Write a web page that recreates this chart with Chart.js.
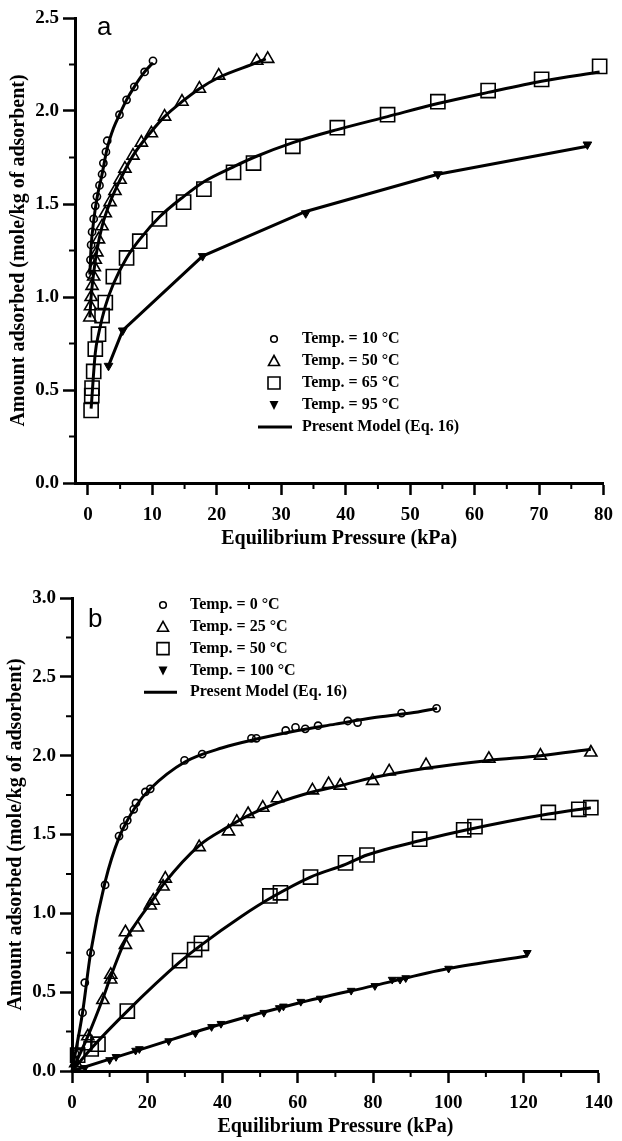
<!DOCTYPE html>
<html>
<head>
<meta charset="utf-8">
<script src="https://cdn.jsdelivr.net/npm/chart.js@4.4.1/dist/chart.umd.min.js"></script>
<style>
  html, body { margin: 0; padding: 0; background: #fff; }
  #wrap { position: relative; width: 622px; height: 1141px; }
  canvas { position: absolute; left: 0; }
  #chartA { top: 0; }
  #chartB { top: 560px; }
</style>
</head>
<body>
<div id="wrap">
  <canvas id="chartA" width="622" height="560"></canvas>
  <canvas id="chartB" width="622" height="581"></canvas>
</div>
<script>
// ---- panel a : measured points ----
const labelsA = ['Temp. = 10 °C', 'Temp. = 50 °C', 'Temp. = 65 °C', 'Temp. = 95 °C', 'Present Model (Eq. 16)'];

const a10x = [0.3, 0.4, 0.5, 0.65, 0.9, 1.15, 1.4, 1.8, 2.2, 2.4, 2.8, 3.0, 4.9, 6.0, 7.2, 8.8, 10.1];
const a10y = [1.12, 1.2, 1.28, 1.35, 1.42, 1.49, 1.54, 1.6, 1.66, 1.72, 1.78, 1.84, 1.98, 2.06, 2.13, 2.21, 2.27];

const a50x = [0.3, 0.4, 0.5, 0.65, 0.9, 1.0, 1.15, 1.4, 1.65, 2.2, 2.7, 3.45, 4.2, 5.0, 5.75, 7.0, 8.3, 9.85, 11.9, 14.6, 17.3, 20.3, 26.2, 27.9];
const a50y = [0.89, 0.95, 1.0, 1.06, 1.11, 1.16, 1.2, 1.24, 1.31, 1.38, 1.45, 1.51, 1.57, 1.63, 1.69, 1.76, 1.83, 1.88, 1.97, 2.05, 2.12, 2.19, 2.27, 2.28];

const a65x = [0.5, 0.6, 0.65, 0.9, 1.15, 1.65, 2.2, 2.7, 3.95, 6.0, 8.05, 11.1, 14.85, 18.0, 22.6, 25.7, 31.8, 38.7, 46.5, 54.3, 62.1, 70.4, 79.4];
const a65y = [0.39, 0.47, 0.51, 0.6, 0.72, 0.8, 0.9, 0.97, 1.11, 1.21, 1.30, 1.42, 1.51, 1.58, 1.67, 1.72, 1.81, 1.91, 1.98, 2.05, 2.11, 2.17, 2.24];

const a95x = [3.2, 5.4, 17.8, 33.8, 54.3, 77.5];
const a95y = [0.63, 0.82, 1.22, 1.45, 1.66, 1.82];

// ---- panel a : model curves ----
const m10x = [0.3, 0.5, 0.9, 1.4, 2.2, 3.0, 4.0, 4.9, 6.0, 7.2, 8.8, 10.1];
const m10y = [1.12, 1.27, 1.41, 1.53, 1.66, 1.8, 1.91, 1.98, 2.06, 2.13, 2.21, 2.26];
const m50x = [0.3, 0.5, 0.9, 1.4, 2.2, 3.45, 5.0, 7.0, 9.85, 11.9, 14.6, 17.3, 20.3, 26.2, 27.6];
const m50y = [0.89, 1.0, 1.13, 1.25, 1.38, 1.51, 1.63, 1.76, 1.89, 1.97, 2.05, 2.12, 2.18, 2.26, 2.28];
const m65x = [0.5, 1.15, 1.65, 2.7, 3.95, 6.0, 8.05, 11.1, 14.85, 18.0, 22.6, 25.7, 31.8, 38.7, 46.5, 54.3, 62.1, 70.4, 79.4];
const m65y = [0.4, 0.7, 0.8, 0.95, 1.07, 1.21, 1.31, 1.43, 1.54, 1.62, 1.70, 1.75, 1.83, 1.9, 1.97, 2.04, 2.1, 2.16, 2.21];
const m95x = [3.2, 5.4, 17.8, 33.8, 54.3, 77.5];
const m95y = [0.63, 0.82, 1.22, 1.46, 1.66, 1.81];

const xMajorA = [0, 10, 20, 30, 40, 50, 60, 70, 80];
const xMinorA = [5, 15, 25, 35, 45, 55, 65, 75];
const yMajorA = [0, 0.5, 1.0, 1.5, 2.0, 2.5];
const yMinorA = [0.25, 0.75, 1.25, 1.75, 2.25];

// ---- panel b : measured points ----
const labelsB = ['Temp. = 0 °C', 'Temp. = 25 °C', 'Temp. = 50 °C', 'Temp. = 100 °C', 'Present Model (Eq. 16)'];

const b0x = [0.8, 2.8, 3.4, 4.95, 8.8, 12.5, 13.8, 14.7, 16.4, 17, 19.5, 20.8, 29.9, 34.6, 47.7, 49, 56.8, 59.4, 62, 65.4, 73.3, 75.9, 87.6, 96.9];
const b0y = [0.11, 0.37, 0.56, 0.75, 1.18, 1.49, 1.55, 1.59, 1.66, 1.7, 1.77, 1.79, 1.97, 2.01, 2.11, 2.11, 2.16, 2.18, 2.17, 2.19, 2.22, 2.21, 2.27, 2.3];

const b25x = [1.0, 4.2, 8.2, 10.3, 10.3, 14.2, 14.2, 17.4, 20.8, 21.6, 24.2, 24.8, 33.8, 41.6, 43.8, 46.8, 50.7, 54.6, 63.9, 68.2, 71.3, 79.9, 84.3, 94.1, 110.8, 124.5, 137.9];
const b25y = [0.05, 0.22, 0.45, 0.58, 0.61, 0.8, 0.88, 0.91, 1.05, 1.08, 1.17, 1.22, 1.42, 1.52, 1.58, 1.63, 1.67, 1.73, 1.78, 1.82, 1.81, 1.84, 1.9, 1.94, 1.98, 2.0, 2.02];

const b50x = [1.5, 3.4, 5.1, 6.9, 14.7, 28.6, 32.6, 34.4, 52.6, 55.4, 63.4, 72.7, 78.4, 92.4, 104.1, 107.1, 126.6, 134.7, 137.9];
const b50y = [0.1, 0.18, 0.14, 0.17, 0.38, 0.70, 0.77, 0.81, 1.11, 1.13, 1.23, 1.32, 1.37, 1.47, 1.53, 1.55, 1.64, 1.66, 1.67];

const b100x = [3.4, 10.0, 11.7, 16.9, 17.9, 25.7, 32.8, 37.1, 39.6, 46.6, 51.0, 55.1, 56.2, 60.8, 66.0, 74.2, 80.5, 85.1, 87.2, 88.7, 100.1, 121.0];
const b100y = [0.02, 0.07, 0.09, 0.13, 0.14, 0.19, 0.24, 0.28, 0.30, 0.34, 0.37, 0.40, 0.41, 0.44, 0.46, 0.51, 0.54, 0.58, 0.58, 0.59, 0.65, 0.75];

// ---- panel b : model curves ----
const n0x = [0, 2.8, 4.95, 8.8, 12.5, 17, 20.8, 30, 40, 50, 60, 70, 80, 90, 97];
const n0y = [0, 0.37, 0.75, 1.2, 1.48, 1.68, 1.79, 1.96, 2.05, 2.11, 2.16, 2.2, 2.24, 2.27, 2.3];
const n25x = [0, 4.2, 8.2, 10.3, 14.2, 17.4, 21, 24.5, 33.8, 41.6, 46.8, 54.6, 63.9, 71.3, 79.9, 94.1, 110.8, 124.5, 137.9];
const n25y = [0, 0.22, 0.46, 0.6, 0.83, 0.95, 1.07, 1.19, 1.43, 1.55, 1.62, 1.70, 1.77, 1.81, 1.86, 1.92, 1.97, 2.0, 2.04];
const n50x = [0, 5, 14.7, 28.6, 34.4, 45, 53, 63.4, 72.7, 78.4, 92.4, 105, 126.6, 137.9];
const n50y = [0, 0.14, 0.38, 0.69, 0.8, 0.98, 1.1, 1.23, 1.31, 1.37, 1.46, 1.53, 1.63, 1.67];
const n100x = [0, 20, 40, 60, 80, 100, 121];
const n100y = [0, 0.15, 0.3, 0.43, 0.54, 0.65, 0.73];

const xMajorB = [0, 20, 40, 60, 80, 100, 120, 140];
const xMinorB = [10, 30, 50, 70, 90, 110, 130];
const yMajorB = [0, 0.5, 1.0, 1.5, 2.0, 2.5, 3.0];
const yMinorB = [0.25, 0.75, 1.25, 1.75, 2.25, 2.75];

const serif = '"Liberation Serif", "Times New Roman", serif';

function pts(xs, ys) {
  return xs.map((x, i) => ({ x: x, y: ys[i] }));
}

// marker sets: style = circle | triangle | rect | down
function markerSet(label, xs, ys, style, radius) {
  const down = style === 'down';
  return {
    label: label,
    data: pts(xs, ys),
    showLine: false,
    pointStyle: down ? 'triangle' : style,
    pointRotation: down ? 180 : 0,
    pointRadius: radius,
    pointBorderColor: '#000',
    pointBackgroundColor: down ? '#000' : 'rgba(0,0,0,0)',
    pointBorderWidth: down ? 1 : 1.6,
    clip: false
  };
}

function modelSet(xs, ys, smooth) {
  return {
    label: 'Present Model (Eq. 16)',
    data: pts(xs, ys),
    showLine: true,
    borderColor: '#000',
    borderWidth: 3,
    pointRadius: 0,
    cubicInterpolationMode: smooth ? 'monotone' : 'default',
    tension: 0,
    clip: false
  };
}

// short ticks between the labelled ones
const minorTicks = {
  id: 'minorTicks',
  afterDraw(chart, args, o) {
    const ctx = chart.ctx, area = chart.chartArea;
    ctx.save();
    ctx.strokeStyle = '#000';
    ctx.lineWidth = 2;
    ctx.beginPath();
    o.x.forEach(v => {
      const px = chart.scales.x.getPixelForValue(v);
      ctx.moveTo(px, area.bottom);
      ctx.lineTo(px, area.bottom + 6);
    });
    o.y.forEach(v => {
      const py = chart.scales.y.getPixelForValue(v);
      ctx.moveTo(area.left, py);
      ctx.lineTo(area.left - 6, py);
    });
    ctx.stroke();
    ctx.restore();
  }
};

function drawKey(ctx, key, x, y, o) {
  ctx.beginPath();
  if (key === 'circle') {
    ctx.lineWidth = 1.6;
    ctx.arc(x, y, 3.3, 0, Math.PI * 2);
    ctx.stroke();
  } else if (key === 'triangle') {
    ctx.lineWidth = 1.6;
    ctx.moveTo(x, y - 5.5);
    ctx.lineTo(x + 5.5, y + 4.5);
    ctx.lineTo(x - 5.5, y + 4.5);
    ctx.closePath();
    ctx.stroke();
  } else if (key === 'rect') {
    ctx.lineWidth = 1.6;
    ctx.rect(x - 6, y - 6, 12, 12);
    ctx.stroke();
  } else if (key === 'down') {
    ctx.moveTo(x - 4.5, y - 4);
    ctx.lineTo(x + 4.5, y - 4);
    ctx.lineTo(x, y + 5);
    ctx.closePath();
    ctx.fill();
  } else {
    ctx.lineWidth = 3;
    ctx.moveTo(x + o.lineFrom, y);
    ctx.lineTo(x + o.lineTo, y);
    ctx.stroke();
  }
}

const boxLegend = {
  id: 'boxLegend',
  afterDraw(chart, args, o) {
    const ctx = chart.ctx;
    ctx.save();
    ctx.fillStyle = '#000';
    ctx.strokeStyle = '#000';
    ctx.font = 'bold 16px ' + serif;
    ctx.textBaseline = 'middle';
    o.labels.forEach((label, i) => {
      const y = o.top + i * o.gap;
      drawKey(ctx, o.keys[i], o.markX, y, o);
      ctx.fillText(label, o.textX, y);
    });
    ctx.font = '26px "Liberation Sans", Arial, sans-serif';
    ctx.textBaseline = 'alphabetic';
    ctx.fillText(o.letter, o.letterX, o.letterY);
    ctx.restore();
  }
};

function buildOptions(c) {
  const tickFont = { family: serif, size: 19, weight: 'bold' };
  const titleFont = { family: serif, size: 20, weight: 'bold' };
  return {
    responsive: false,
    animation: false,
    devicePixelRatio: 1,
    events: [],
    layout: { padding: c.pad },
    plugins: {
      legend: { display: false },
      tooltip: { enabled: false },
      minorTicks: { x: c.xMinor, y: c.yMinor },
      boxLegend: c.legend
    },
    scales: {
      x: {
        type: 'linear',
        min: c.xMin,
        max: c.xMax,
        afterBuildTicks: s => { s.ticks = c.xMajor.map(v => ({ value: v })); },
        afterFit: s => { s.height = c.xHeight; },
        border: { display: true, color: '#000', width: 3 },
        grid: { display: true, drawOnChartArea: false, drawTicks: true, tickLength: 12, tickWidth: 2.5, tickColor: '#000' },
        ticks: { color: '#000', font: tickFont, padding: 9, maxRotation: 0, autoSkip: false, callback: v => String(v) },
        title: { display: true, text: 'Equilibrium Pressure (kPa)', color: '#000', font: titleFont, padding: { top: 0, bottom: c.xTitlePad } }
      },
      y: {
        type: 'linear',
        min: 0,
        max: c.yMax,
        afterBuildTicks: s => { s.ticks = c.yMajor.map(v => ({ value: v })); },
        afterFit: s => { s.width = c.yWidth; },
        border: { display: true, color: '#000', width: 3 },
        grid: { display: true, drawOnChartArea: false, drawTicks: true, tickLength: 12, tickWidth: 2.5, tickColor: '#000' },
        ticks: { color: '#000', font: tickFont, padding: 4, autoSkip: false, callback: v => v.toFixed(1) },
        title: { display: true, text: 'Amount adsorbed (mole/kg of adsorbent)', color: '#000', font: titleFont, padding: { top: c.yTitlePad, bottom: 0 } }
      }
    }
  };
}

const chartA = new Chart(document.getElementById('chartA'), {
  type: 'scatter',
  data: {
    datasets: [
      modelSet(m10x, m10y, true),
      modelSet(m50x, m50y, true),
      modelSet(m65x, m65y, true),
      modelSet(m95x, m95y, false),
      markerSet(labelsA[0], a10x, a10y, 'circle', 3.6),
      markerSet(labelsA[1], a50x, a50y, 'triangle', 7),
      markerSet(labelsA[2], a65x, a65y, 'rect', 10),
      markerSet(labelsA[3], a95x, a95y, 'down', 5)
    ]
  },
  options: buildOptions({
    pad: { left: 0, right: 13, top: 18, bottom: 0 },
    xMin: -2, xMax: 80, xMajor: xMajorA, xMinor: xMinorA,
    yMax: 2.5, yMajor: yMajorA, yMinor: yMinorA,
    xHeight: 77, yWidth: 75, xTitlePad: 9, yTitlePad: 7,
    legend: {
      labels: labelsA, keys: ['circle', 'triangle', 'rect', 'down', 'line'],
      top: 339, gap: 22, markX: 274, textX: 302, lineFrom: -16, lineTo: 18,
      letter: 'a', letterX: 97, letterY: 35
    }
  }),
  plugins: [minorTicks, boxLegend]
});

const chartB = new Chart(document.getElementById('chartB'), {
  type: 'scatter',
  data: {
    datasets: [
      modelSet(n0x, n0y, true),
      modelSet(n25x, n25y, true),
      modelSet(n50x, n50y, true),
      modelSet(n100x, n100y, true),
      markerSet(labelsB[0], b0x, b0y, 'circle', 3.6),
      markerSet(labelsB[1], b25x, b25y, 'triangle', 7),
      markerSet(labelsB[2], b50x, b50y, 'rect', 10),
      markerSet(labelsB[3], b100x, b100y, 'down', 4.5)
    ]
  },
  options: buildOptions({
    pad: { left: 0, right: 13, top: 38, bottom: 0 },
    xMin: 0, xMax: 140, xMajor: xMajorB, xMinor: xMinorB,
    yMax: 3.0, yMajor: yMajorB, yMinor: yMinorB,
    xHeight: 70, yWidth: 72, xTitlePad: 2, yTitlePad: 4,
    legend: {
      labels: labelsB, keys: ['circle', 'triangle', 'rect', 'down', 'line'],
      top: 45, gap: 21.8, markX: 163, textX: 190, lineFrom: -19, lineTo: 14,
      letter: 'b', letterX: 88, letterY: 67
    }
  }),
  plugins: [minorTicks, boxLegend]
});
</script>
</body>
</html>
